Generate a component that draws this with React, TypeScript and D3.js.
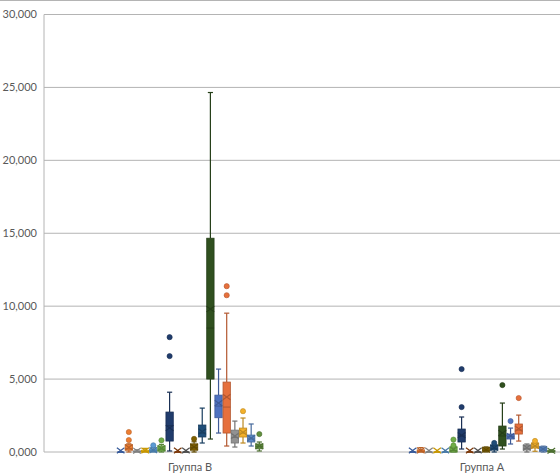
import * as React from "react"
import * as d3 from "d3"

const categories = ["Группа B", "Группа A"]

const seriesColors = [
  "#4472C4", "#ED7D31", "#A5A5A5", "#FFC000", "#5B9BD5", "#70AD47",
  "#203C6C", "#9E480E", "#636363", "#7F6000", "#1F4E79", "#30501F",
  "#4F73C0", "#E6703C", "#929292", "#F3B02A", "#5A88C8", "#618F3E",
]

// [low whisker, Q1, median, Q3, high whisker, mean]
const boxesB = [
  [0, 0, 0, 0, 0, 100],
  [0, 120, 220, 500, 560, 320],
  [0, 0, 30, 80, 150, 90],
  [0, 0, 40, 120, 250, 100],
  [0, 20, 80, 220, 320, 130],
  [0, 60, 200, 420, 520, 260],
  [70, 750, 1800, 2740, 4100, 1650],
  [0, 0, 0, 0, 0, 100],
  [0, 0, 0, 0, 0, 100],
  [0, 120, 300, 560, 700, 350],
  [616, 1030, 1300, 1850, 3010, 1400],
  [890, 5000, 8500, 14660, 24650, 9800],
  [1300, 2350, 3150, 3900, 5685, 3350],
  [410, 1300, 3080, 4795, 9520, 3770],
  [340, 616, 1000, 1500, 2120, 1100],
  [616, 1027, 1300, 1640, 2330, 1350],
  [410, 685, 900, 1160, 1920, 950],
  [70, 220, 380, 550, 685, 400],
]
const outliersB = [
  [], [820, 1370], [], [], [460], [800],
  [6575, 7877], [], [], [900], [], [],
  [], [10750, 11370], [], [2800], [], [1230],
]

const boxesA = [
  [0, 0, 0, 0, 0, 100],
  [0, 0, 50, 150, 300, 110],
  [0, 0, 0, 0, 0, 100],
  [0, 0, 0, 0, 0, 100],
  [0, 0, 0, 0, 0, 100],
  [0, 0, 100, 340, 380, 180],
  [205, 685, 1100, 1575, 2400, 1150],
  [0, 0, 0, 0, 0, 100],
  [0, 0, 0, 0, 0, 100],
  [0, 50, 120, 300, 350, 160],
  [0, 130, 250, 480, 540, 300],
  [205, 410, 1100, 1780, 3356, 1300],
  [548, 890, 1050, 1230, 1640, 1100],
  [750, 1230, 1500, 1920, 2530, 1600],
  [0, 137, 250, 480, 550, 300],
  [50, 270, 400, 616, 650, 420],
  [0, 70, 200, 340, 400, 200],
  [0, 0, 30, 100, 150, 80],
]
const outliersA = [
  [], [], [], [], [], [450, 850],
  [3080, 5685], [], [], [], [620], [4590],
  [2120], [3700], [], [760], [], [],
]

const yTicks = [0, 5000, 10000, 15000, 20000, 25000, 30000]
const yTickLabels = ["0,000", "5,000", "10,000", "15,000", "20,000", "25,000", "30,000"]

const boxesByCategory = [boxesB, boxesA]
const outliersByCategory = [outliersB, outliersA]

const width = 560
const height = 476
const margin = { top: 14.5, left: 44, bottom: 24 }
const font = "Lato, 'Open Sans', sans-serif"

export default function App() {
  const plotBottom = height - margin.bottom
  const y = d3.scaleLinear().domain([0, 30000]).range([plotBottom, margin.top])
  // plot area runs past the right edge of the picture
  const x = d3.scaleBand<string>().domain(categories).range([margin.left, margin.left + 2 * 292])
  const groupW = x.bandwidth() * 0.5
  const inner = d3
    .scaleBand<number>()
    .domain(d3.range(seriesColors.length))
    .range([-groupW / 2, groupW / 2])
    .paddingInner(0.1)
  const bw = inner.bandwidth()

  return (
    <svg
      width={width}
      height={height}
      style={{ position: "absolute", left: 0, top: 0, background: "#fff" }}
      fontFamily={font}
    >
      <line x1={0} x2={width} y1={0.5} y2={0.5} stroke="#b4b4b4" />
      {yTicks.map((t, i) => (
        <g key={t}>
          <line x1={margin.left} x2={width} y1={y(t)} y2={y(t)} stroke="#b4b4b4" strokeWidth={1} />
          <text x={37} y={y(t)} dy="0.35em" textAnchor="end" fontSize={11} fill="#595959">
            {yTickLabels[i]}
          </text>
        </g>
      ))}
      <line x1={margin.left} x2={margin.left} y1={margin.top} y2={plotBottom} stroke="#b4b4b4" />
      {categories.map((c, ci) => {
        const cx = x(c)! + x.bandwidth() / 2
        return (
          <g key={c}>
            <text x={cx} y={471} textAnchor="middle" fontSize={11} fill="#595959">
              {c}
            </text>
            {boxesByCategory[ci].map((s, si) => {
              const [lo, q1, med, q3, hi, mean] = s
              const color = seriesColors[si]
              const dark = d3.color(color)!.darker(0.7).formatHex()
              const left = cx + inner(si)!
              const mid = left + bw / 2
              const cap = bw * 0.35
              const my = y(mean)
              return (
                <g key={si}>
                  <line x1={mid} x2={mid} y1={y(hi)} y2={y(q3)} stroke={dark} strokeWidth={1.2} />
                  <line x1={mid} x2={mid} y1={y(q1)} y2={y(lo)} stroke={dark} strokeWidth={1.2} />
                  <line x1={mid - cap} x2={mid + cap} y1={y(hi)} y2={y(hi)} stroke={dark} strokeWidth={1.2} />
                  <line x1={mid - cap} x2={mid + cap} y1={y(lo)} y2={y(lo)} stroke={dark} strokeWidth={1.2} />
                  <rect
                    x={left}
                    y={y(q3)}
                    width={bw}
                    height={Math.max(0, y(q1) - y(q3))}
                    fill={color}
                    stroke={dark}
                    strokeWidth={0.8}
                  />
                  <line x1={left} x2={left + bw} y1={y(med)} y2={y(med)} stroke={dark} strokeWidth={1} />
                  <path
                    d={`M${mid - 3.8},${my - 2.8}L${mid + 3.8},${my + 2.8}M${mid - 3.8},${my + 2.8}L${mid + 3.8},${my - 2.8}`}
                    stroke={dark}
                    strokeWidth={1.2}
                    fill="none"
                  />
                  {outliersByCategory[ci][si].map((o, oi) => (
                    <circle key={oi} cx={mid} cy={y(o)} r={2.6} fill={color} stroke={dark} strokeWidth={0.6} />
                  ))}
                </g>
              )
            })}
          </g>
        )
      })}
    </svg>
  )
}
